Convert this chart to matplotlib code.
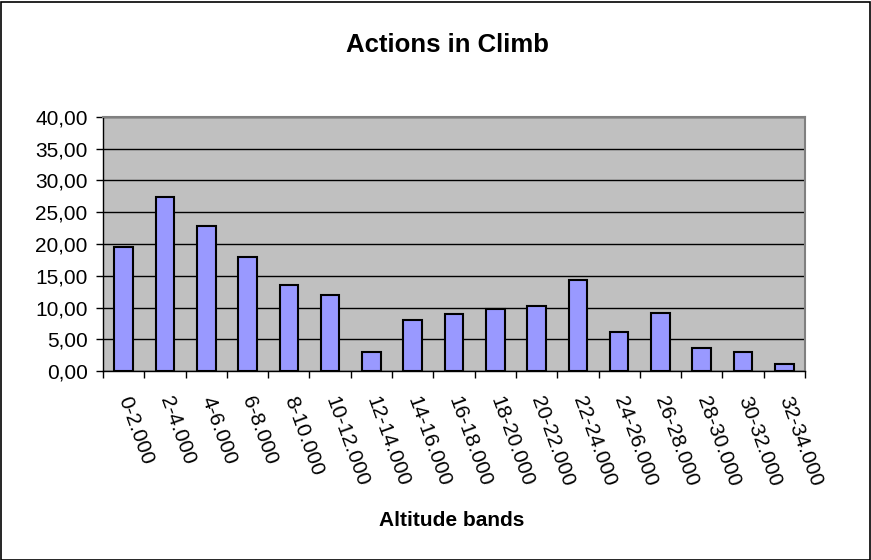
import matplotlib
matplotlib.use("Agg")
import matplotlib.pyplot as plt
from matplotlib.patches import Rectangle
import numpy as np

plt.rcParams['font.family'] = ['Liberation Sans', 'DejaVu Sans']

bands = ["0-2.000", "2-4.000", "4-6.000", "6-8.000", "8-10.000", "10-12.000",
         "12-14.000", "14-16.000", "16-18.000", "18-20.000", "20-22.000",
         "22-24.000", "24-26.000", "26-28.000", "28-30.000", "30-32.000",
         "32-34.000"]
actions = [19.5, 27.4, 22.9, 17.9, 13.5, 11.9, 3.05, 8.1, 9.0, 9.7, 10.3,
           14.4, 6.2, 9.1, 3.7, 3.05, 1.1]
yticks = [0, 5, 10, 15, 20, 25, 30, 35, 40]

W, H = 871, 560
fig = plt.figure(figsize=(W / 100, H / 100), dpi=100)
ax = fig.add_axes([103 / W, 1 - 371 / H, (805 - 103) / W, (371 - 117) / H])

x = np.arange(len(bands))
ax.bar(x, actions, width=0.45, color="#9999FF", edgecolor="black",
       linewidth=1.5, zorder=3)

ax.set_facecolor("#C0C0C0")
ax.set_xlim(-0.5, len(bands) - 0.5)
ax.set_ylim(0, 40)
ax.set_yticks(yticks)
ax.set_yticklabels([f"{v:.2f}".replace(".", ",") for v in yticks], fontsize=15)
ax.yaxis.grid(True, color="black", linewidth=1, zorder=1)
ax.tick_params(axis="y", direction="out", length=5, width=1, pad=6)

ax.set_xticks(x)
ax.set_xticklabels(bands, fontsize=15, rotation=-70, rotation_mode="anchor",
                   ha="left", va="center")
ax.tick_params(axis="x", which="major", length=0, pad=19)
ax.set_xticks(np.arange(-0.5, len(bands)), minor=True)
ax.tick_params(axis="x", which="minor", direction="out", length=5, width=1)

for side in ["top", "right"]:
    ax.spines[side].set_color("#808080")
    ax.spines[side].set_linewidth(1.5)
for side in ["left", "bottom"]:
    ax.spines[side].set_color("black")
    ax.spines[side].set_linewidth(1)

fig.text(447 / W, 1 - 45 / H, "Actions in Climb", fontsize=18.5,
         fontweight="bold", ha="center", va="center")
fig.text(452 / W, 1 - 520 / H, "Altitude bands", fontsize=15,
         fontweight="bold", ha="center", va="center")

fig.patches.append(Rectangle((0.5 / W, 0.5 / H), (W - 2) / W, (H - 2) / H,
                             transform=fig.transFigure, fill=False,
                             edgecolor="black", linewidth=1.2))

fig.savefig("out.png", dpi=100, facecolor="white")
